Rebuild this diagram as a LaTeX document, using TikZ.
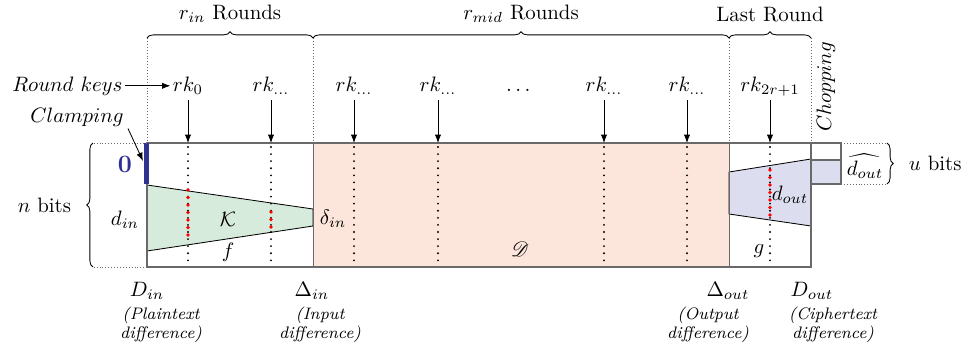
\documentclass[tikz,border=0pt]{standalone}
\usepackage{amsmath}
\usepackage{amssymb}
\usepackage{mathrsfs}
\usetikzlibrary{
    arrows.meta,
    positioning,
    calc,
    decorations.pathreplacing
}
\definecolor{inGreen}{RGB}{214,235,219}
\definecolor{midPink}{RGB}{252,229,218}
\definecolor{outLilac}{RGB}{221,221,240}
\definecolor{clampBlue}{RGB}{46,49,146}
\definecolor{edgeGray}{RGB}{105,105,105}
\tikzset{
    % --- Round key label ---
    key/.style = {
        inner sep=1pt, anchor=base
    },
    % --- Round key arrow ---
    key arrow/.style = {
        -{Latex[length=4pt, width=3pt]}, thin
    },
    % --- Separator between round groups ---
    round sep/.style = {
        densely dotted, edgeGray, thin
    },
    % --- Round boundary inside the state ---
    round line/.style = {
        line width=1pt, dash pattern=on 0pt off 3.4pt, line cap=round
    },
    % --- Active bits on a round boundary ---
    active line/.style = {
        line width=1.8pt, dash pattern=on 0pt off 3.6pt, line cap=round, red
    },
    % --- State outline ---
    state edge/.style = {
        draw=edgeGray, line width=0.9pt
    },
    % --- Differential trail (trapezoid) ---
    trail/.style = {
        draw=black, thin
    },
    % --- Brace over round groups ---
    group brace/.style = {
        decorate, decoration={brace, amplitude=3pt}, thin
    },
    % --- Italic annotation ---
    note/.style = {
        inner sep=1pt
    },
    % --- Description under a difference ---
    descr/.style = {
        font=\footnotesize\itshape, align=center, inner sep=1pt
    },
    % --- Difference label under the state ---
    diff/.style = {
        inner sep=1pt
    }
}

\begin{document}
\begin{tikzpicture}[x=0.48pt, y=-0.48pt, >=Latex]
\useasboundingbox (0,0) rectangle (967,356);

% ---------------------------------------------------------
% State regions
% ---------------------------------------------------------
\coordinate (top) at (0,143);
\coordinate (bot) at (0,267);
\fill[midPink] (313,143) rectangle (729,267);
\filldraw[trail, fill=inGreen] (147,185) -- (313,209) -- (313,226) -- (147,251) -- cycle;
\filldraw[trail, fill=outLilac] (729,172) -- (811,159) -- (811,226) -- (729,214) -- cycle;

% Round boundaries
\foreach \x in {188,271,354,438,604,687,770}
    \draw[round line] (\x,147) -- (\x,265);
\draw[active line] (188,190) -- (188,242);
\draw[active line] (271,212) -- (271,233);
\draw[active line] (770,170) -- (770,220);

% Outline
\draw[state edge] (147,143) rectangle (811,267);
\draw[state edge, thin] (313,143) -- (313,267);
\draw[state edge, thin] (729,143) -- (729,267);

% Chopping
\draw[state edge, fill=white] (811,143) rectangle (841,160);
\draw[state edge, fill=outLilac] (811,160) rectangle (841,184);

% Clamped bits
\fill[clampBlue] (144,143) rectangle (149,184);
\node[text=clampBlue, font=\large\bfseries] (zero) at (125,164) {0};

% ---------------------------------------------------------
% Labels inside the state
% ---------------------------------------------------------
\node (din) at (125,220) {$d_{in}$};
\node (K) at (228,219) {$\mathcal{K}$};
\node (f) at (228,252) {$f$};
\node (dlin) at (333,219) {$\delta_{in}$};
\node (Dscr) at (520,249) {$\mathscr{D}$};
\node (dout) at (790,195) {$d_{out}$};
\node (g) at (759,251) {$g$};
\node (dhat) at (865,166) {$\widehat{d_{out}}$};

% ---------------------------------------------------------
% Braces
% ---------------------------------------------------------
\foreach \x in {147,313,729,811}
    \draw[round sep] (\x,38) -- (\x,143);
\draw[group brace] (147,38) -- (313,38) node[midway, above=4pt] (rin) {$r_{in}$ Rounds};
\draw[group brace] (313,38) -- (729,38) node[midway, above=4pt] (rmid) {$r_{mid}$ Rounds};
\draw[group brace] (729,38) -- (811,38) node[midway, above=4pt] (rlast) {Last Round};
\node[note, rotate=90] (chop) at (826,87) {$Chopping$};

\draw[round sep] (147,143) -- (93,143);
\draw[round sep] (147,267) -- (93,267);
\draw[group brace] (93,267) -- (93,143) node[midway, left=7pt] (nbits) {$n$ bits};
\draw[round sep] (841,143) -- (887,143);
\draw[round sep] (841,184) -- (887,184);
\draw[group brace] (887,143) -- (887,184) node[midway, right=7pt] (ubits) {$u$ bits};

% ---------------------------------------------------------
% Round keys
% ---------------------------------------------------------
\foreach \x/\lab [count=\i] in {188/{rk_0}, 271/{rk_{\dots}}, 354/{rk_{\dots}},
        438/{rk_{\dots}}, 604/{rk_{\dots}}, 687/{rk_{\dots}}, 770/{rk_{2r+1}}} {
    \node[key] (rk\i) at (\x,91) {$\lab$};
    \draw[key arrow] ($(rk\i.base)+(0,9)$) -- (rk\i.base |- top);
}
\node[key] (rkdots) at (520,91) {$\dots$};

\node[note, anchor=base east] (rkeys) at (125,91) {$Round\ keys$};
\draw[key arrow] (rkeys.east) -- (rkeys.east -| rk1.west);

\node[note, anchor=base east] (clamp) at (126,122) {$Clamping$};
\coordinate (clampTip) at (143,161);
\draw[key arrow] ($(clamp.south east)+(2,0)$) -- (clampTip);

% ---------------------------------------------------------
% Differences
% ---------------------------------------------------------
\node[diff] (Din) at (147,291) {$D_{in}$};
\node[diff] (Dlin) at (312,291) {$\Delta_{in}$};
\node[diff] (Dlout) at (728,291) {$\Delta_{out}$};
\node[diff] (Dout) at (812,291) {$D_{out}$};
\node[descr] (pt) at (161,325) {(Plaintext\\[-0.6pt]difference)};
\node[descr] (inp) at (320,325) {(Input\\[-0.6pt]difference)};
\node[descr] (outp) at (708,325) {(Output\\[-0.6pt]difference)};
\node[descr] (ct) at (833,325) {(Ciphertext\\[-0.6pt]difference)};

\end{tikzpicture}
\end{document}
